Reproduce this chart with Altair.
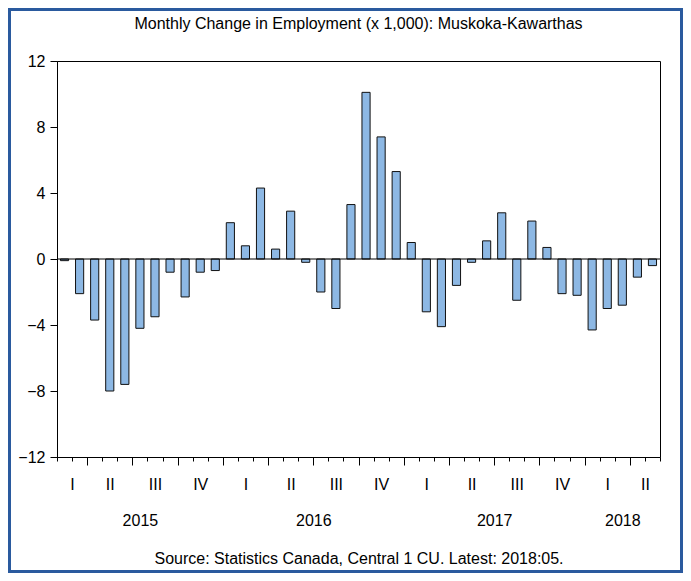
import json
import altair as alt
import pandas as pd

# ---- data ----
all_months = [f"{y}-{m:02d}" for y in range(2015, 2019) for m in range(1, 13)]
months = all_months[all_months.index("2015-02"): all_months.index("2018-05") + 1]
values = [-0.1, -2.1, -3.7, -8.0, -7.6, -4.2, -3.5, -0.8, -2.3, -0.8, -0.7,
          2.2, 0.8, 4.3, 0.6, 2.9, -0.2, -2.0, -3.0, 3.3, 10.1, 7.4, 5.3,
          1.0, -3.2, -4.1, -1.6, -0.2, 1.1, 2.8, -2.5, 2.3, 0.7, -2.1, -2.2, -4.3,
          -3.0, -2.8, -1.1, -0.4]
quarter_labels = ["I", "II", "III", "IV", "I", "II", "III", "IV",
                  "I", "II", "III", "IV", "I", "II"]
year_labels = ["2015", "2016", "2017", "2018"]
y_ticks = [-12, -8, -4, 0, 4, 8, 12]
title_text = "Monthly Change in Employment (x 1,000): Muskoka-Kawarthas"
source_text = "Source: Statistics Canada, Central 1 CU. Latest: 2018:05."

# ---- derived table ----
n = len(months)
df = pd.DataFrame({"month": months, "value": values})
df["i"] = range(n)
df["start"] = df["i"] + 0.23
df["end"] = df["i"] + 0.77
df["mid"] = df["i"] + 0.5
df["year"] = df["month"].str[:4]
df["q"] = (df["month"].str[5:7].astype(int) - 1) // 3
q_centers = [float(v) for v in df.groupby(["year", "q"], sort=False)["mid"].mean().tolist()]
y_centers = [float(v) for v in df.groupby("year", sort=False)["mid"].mean().tolist()]
q_bounds = [int(i) for i, mo in zip(df["i"], df["month"])
            if int(mo[5:7]) in (1, 4, 7, 10) and i > 0]

W, H = 603, 396
FONT = "Liberation Sans"
xscale = alt.Scale(domain=[0, n], nice=False, zero=False)
yscale = alt.Scale(domain=[-12, 12], nice=False)

y_axis = alt.Axis(values=y_ticks, title=None, grid=False, tickSize=7,
                  labelPadding=5, labelFlush=False)

bars = alt.Chart(df).mark_bar(
    fill="#8db8e4", stroke="#111111", strokeWidth=1
).encode(
    x=alt.X("start:Q", scale=xscale,
            axis=alt.Axis(values=list(range(n + 1)), labels=False, title=None,
                          grid=False, orient="bottom",
                          tickSize={"condition": {"test": f"indexof({json.dumps(q_bounds)}, datum.value) >= 0",
                                                  "value": 8}, "value": 4})),
    x2="end:Q",
    y=alt.Y("value:Q", scale=yscale, axis=y_axis),
    y2=alt.datum(0),
)

zero = alt.Chart(pd.DataFrame({"z": [0]})).mark_rule(
    color="black", strokeWidth=1
).encode(y=alt.Y("z:Q", scale=yscale, axis=y_axis))

qdf = pd.DataFrame({"qc": q_centers, "ql": quarter_labels})
q_layer = alt.Chart(qdf).mark_point(opacity=0).encode(
    x=alt.X("qc:Q", scale=xscale,
            axis=alt.Axis(orient="bottom", values=q_centers, ticks=False, domain=False,
                          grid=False, title=None, labelPadding=19, labelFlush=False,
                          labelExpr=f"{json.dumps(quarter_labels)}[indexof({json.dumps(q_centers)}, datum.value)]"))
)

ydf = pd.DataFrame({"yc": y_centers, "yl": year_labels})
y_layer = alt.Chart(ydf).mark_point(opacity=0).encode(
    x=alt.X("yc:Q", scale=xscale,
            axis=alt.Axis(orient="bottom", values=y_centers, ticks=False, domain=False,
                          grid=False, title=source_text, titlePadding=22,
                          labelPadding=55, labelFlush=False,
                          labelExpr=f"{json.dumps(year_labels)}[indexof({json.dumps(y_centers)}, datum.value)]"))
)

frame = alt.Chart(pd.DataFrame({"f": [0]})).mark_rect(
    fillOpacity=0, stroke="#2a5a9e", strokeWidth=3
).encode(
    x=alt.value(-47.5), x2=alt.value(624.5), y=alt.value(-51.5), y2=alt.value(510.5)
)

chart = alt.layer(bars, zero, q_layer, y_layer, frame).resolve_scale(
    x="independent"
).properties(
    width=W, height=H,
    autosize=alt.AutoSizeParams(type="none"),
    padding={"left": 49, "top": 53, "right": 23, "bottom": 116},
    title=alt.TitleParams(text=title_text, font=FONT, fontSize=16, fontWeight="normal",
                          color="black", anchor="middle", frame="group", offset=-24),
    background="white",
).configure_axis(
    labelFont=FONT, labelFontSize=16, labelColor="black",
    tickColor="black", domainColor="black",
    titleFont=FONT, titleFontSize=16, titleFontWeight="normal", titleColor="black",
).configure_view(stroke="black", strokeWidth=1)

chart.save("out.html", embed_options={"renderer": "svg", "actions": False})
